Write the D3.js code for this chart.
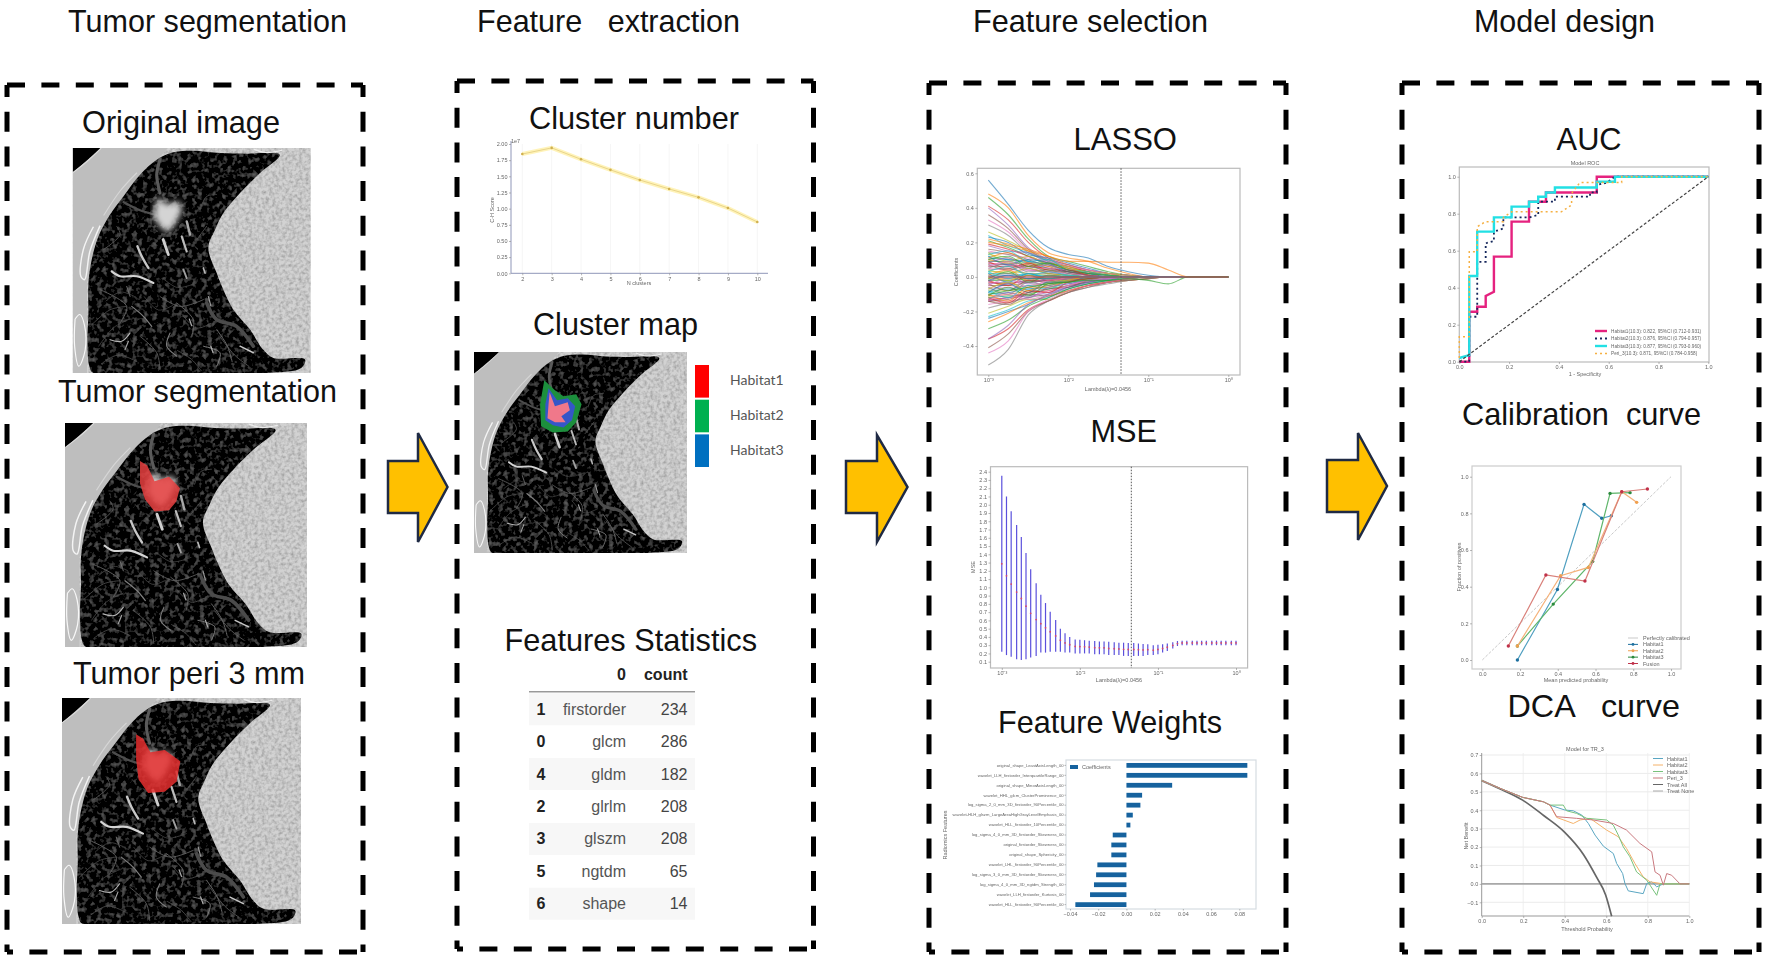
<!DOCTYPE html>
<meta charset="utf-8">
<style>
  body { margin: 0; background: #fff; }
  text { font-family: "Liberation Sans", Arial, sans-serif; }
  .head { fill: #111; font-size: 32px; white-space: pre; }
  .tiny text, text.tiny { font-size: 5.5px; fill: #666; }
  .tiny .tick line { stroke: #888; stroke-width: .6; }
  .tiny .domain { display: none; }
</style>
<script src="https://d3js.org/d3.v7.min.js"></script>
<div id="fig"></div>
<script>
// ---------- data ----------
var clusterK = [2, 3, 4, 5, 6, 7, 8, 9, 10];
var clusterScore = [1.845, 1.94, 1.763, 1.60, 1.443, 1.304, 1.175, 1.01, 0.794];

var habitats = ["Habitat1", "Habitat2", "Habitat3"];
var habitatColors = ["#ff0000", "#00b050", "#0070c0"];

var tableIndex = [1, 0, 4, 2, 3, 5, 6];
var tableNames = ["firstorder", "glcm", "gldm", "glrlm", "glszm", "ngtdm", "shape"];
var tableCounts = [234, 286, 182, 208, 208, 65, 14];

// lasso path: log10(lambda) grid and coefficients x100, missing tail values are 0
var lassoGrid = [-3, -2.75, -2.5, -2.25, -2, -1.75, -1.5, -1.25, -1, -0.75, -0.5, 0];
var lassoCoefs = [
  [56,42,27,17,13,11,6,3,1],[48,40,24,14,11,9,5,2],[46,36,22,12,9,6,3,1],[41,33,20,11,7,4,2,1],
  [40,30,17,10,6,3,1],[36,28,16,9,5,3,1],[33,26,15,8,5,2,1],[30,24,14,9,4,2],
  [26,21,15,10,6,3,1],[24,18,14,9,5,2,1],[23,20,13,11,8,5,2,1],[22,19,16,12,7,4,2],
  [21,17,12,7,4,2,1],[19,16,12,8,6,3,1],[18,15,14,10,7,4,2,1],[16,14,10,6,3,1],
  [15,13,11,9,6,4,2,1],[14,13,9,5,3,1],[13,11,8,8,5,3,2,1],[12,10,8,5,3,1],
  [11,10,9,7,4,2,1],[10,8,7,4,2,1],[9,9,6,4,3,1],[8,7,6,5,3,1],[7,7,4,3,1],[6,6,5,2,1],
  [5,4,4,3,2,1],[4,5,2,2,1],[3,3,2,1,1],[2,2,1,1],[1,1,1],
  [-1,-1,-1],[-2,-2,-1,-1],[-3,-4,-2,-2,-1],[-4,-3,-3,-2,-1],[-5,-5,-3,-2,-1,-1],
  [-6,-6,-5,-3,-2,-1],[-7,-7,-5,-4,-2,-1],[-8,-8,-6,-4,-2,-1,-1],[-9,-7,-7,-5,-3,-2,-1],
  [-10,-9,-7,-6,-4,-2,-1],[-11,-10,-8,-5,-3,-1],[-12,-11,-10,-7,-5,-3,-2,-1],
  [-13,-12,-9,-8,-5,-3,-1],[-14,-12,-11,-9,-6,-4,-2,-1],[-14,-13,-10,-11,-8,-5,-3,-2,-1],
  [-16,-14,-12,-8,-5,-2,-1],[-18,-15,-12,-10,-7,-4,-2,-1],[-21,-17,-13,-13,-8,-5,-3,-1],
  [-23,-19,-14,-12,-7,-4,-2,-1],[-24,-20,-16,-10,-6,-3,-1],[-26,-21,-15,-11,-8,-5,-3,-2,-1],
  [-30,-25,-17,-12,-7,-4,-2],[-36,-30,-19,-14,-9,-5,-3,-1],[-36,-28,-16,-11,-6,-3,-1],
  [-41,-33,-20,-14,-9,-6,-3,-2,-1],[-44,-37,-20,-13,-8,-5,-3,-1],[-51,-42,-22,-14,-9,-6,-4,-2,-1],
  [14,9,12,7,6,2,1],[13,15,9,10,4,3,1],[12,7,10,8,3,2],[11,14,8,6,5,1],[10,12,6,8,4,2,1],[9,5,8,4,4,1],
  [8,11,5,7,2,1],[7,4,7,3,3,1],[6,9,4,5,1],[5,8,3,4,2],[4,2,5,2,1],[3,6,1,3,1],[2,-3,2,-1],[1,4,-2,1],
  [-1,3,-3,1],[-2,-5,1,-2],[-3,1,-4,-1],[-4,-8,-2,-3,-1],[-5,-1,-6,-2,-1],[-6,-10,-3,-5,-1],[-7,-3,-8,-3,-2],
  [-8,-12,-5,-7,-2,-1],[-9,-4,-9,-3,-3],[-10,-14,-6,-6,-2],[-11,-6,-11,-4,-3,-1],[-12,-15,-8,-9,-3,-1],
  [-13,-9,-12,-6,-4,-2,-1],[-14,-16,-9,-7,-6,-2],[-14,-10,-13,-10,-5,-2,-1],[0,2,-1,1],[0,-2,1,-1],[3,-1,2,0,1],[-2,1,-1,-1],
  [20,18,15,12,9,9,8.5,8.5,8,4],[-10,-8,-6,-4,-3,-2,-2,-1,-2,-4]
];
var lassoLambda = 0.0456;

// MSE cross validation bars
var mseLogLambda = [-3,-2.94,-2.88,-2.81,-2.75,-2.69,-2.63,-2.56,-2.5,-2.44,-2.38,-2.31,-2.25,-2.19,-2.13,-2.06,-2,
  -1.94,-1.88,-1.81,-1.75,-1.69,-1.63,-1.56,-1.5,-1.44,-1.38,-1.31,-1.25,-1.19,-1.13,-1.06,-1,
  -0.94,-0.88,-0.81,-0.75,-0.69,-0.63,-0.56,-0.5,-0.44,-0.38,-0.31,-0.25,-0.19,-0.13,-0.06,0];
var mseTop = [2.35,2.10,1.92,1.755,1.61,1.415,1.22,1.05,0.91,0.81,0.705,0.605,0.50,0.445,0.40,0.37,0.365,
  0.36,0.355,0.35,0.345,0.345,0.34,0.335,0.33,0.33,0.325,0.325,0.32,0.315,0.31,0.30,0.305,
  0.31,0.32,0.335,0.35,0.355,0.355,0.355,0.355,0.355,0.355,0.355,0.355,0.355,0.355,0.355,0.355];
var mseBottom = [0.22,0.18,0.16,0.13,0.12,0.13,0.15,0.17,0.21,0.21,0.22,0.22,0.22,0.21,0.21,0.20,0.20,
  0.20,0.20,0.19,0.19,0.19,0.18,0.18,0.18,0.17,0.17,0.17,0.17,0.17,0.18,0.18,0.19,
  0.21,0.23,0.26,0.29,0.30,0.30,0.30,0.30,0.30,0.30,0.30,0.30,0.30,0.30,0.30,0.30];

var featureNames = ["original_shape_LeastAxisLength_00","wavelet_LLH_firstorder_InterquartileRange_00",
  "original_shape_MinorAxisLength_00","wavelet_HHL_glcm_ClusterProminence_00",
  "log_sigma_2_0_mm_3D_firstorder_90Percentile_00","wavelet-HLH_glszm_LargeAreaHighGrayLevelEmphasis_00",
  "wavelet_HLL_firstorder_10Percentile_00","log_sigma_4_0_mm_3D_firstorder_Skewness_00",
  "original_firstorder_Skewness_00","original_shape_Sphericity_00","wavelet_LHL_firstorder_90Percentile_00",
  "log_sigma_3_0_mm_3D_firstorder_Skewness_00","log_sigma_4_0_mm_3D_ngtdm_Strength_00",
  "wavelet_LLH_firstorder_Kurtosis_00","wavelet_HLL_firstorder_90Percentile_00"];
var featureWeights = [0.0857,0.0857,0.0324,0.0111,0.0099,0.0045,0.0028,-0.0097,-0.0107,-0.0107,-0.0206,-0.0215,-0.023,-0.0258,-0.0362];

var rocHabitat1 = [[0,0],[.04,0],[.04,.27],[.072,.27],[.072,.297],[.106,.297],[.106,.355],[.139,.378],[.139,.568],[.21,.568],[.21,.757],[.28,.757],[.28,.865],[.348,.865],[.348,.915],[.552,.915],[.552,1],[1,1]];
var rocHabitat2 = [[0,0],[.04,0],[.04,.243],[.072,.243],[.072,.54],[.106,.54],[.106,.64],[.139,.652],[.139,.703],[.177,.72],[.177,.78],[.28,.78],[.317,.793],[.317,.865],[.384,.865],[.384,.892],[.525,.892],[.525,.915],[.552,.915],[.552,.955],[.592,.968],[.625,1],[1,1]];
var rocHabitat3 = [[0,.02],[.04,.036],[.04,.463],[.072,.463],[.072,.703],[.139,.703],[.139,.78],[.21,.78],[.21,.838],[.28,.838],[.28,.865],[.317,.865],[.317,.892],[.348,.892],[.348,.915],[.384,.915],[.384,.942],[.552,.942],[.552,.973],[.625,.973],[.625,1],[1,1]];
var rocPeri = [[0,.02],[0,.135],[.04,.135],[.04,.595],[.072,.595],[.072,.73],[.106,.757],[.177,.757],[.177,.78],[.21,.81],[.41,.81],[.451,.847],[.451,.91],[.484,.968],[.652,.968],[.652,1],[1,1]];
var rocLabels = ["Habitat1(10.3): 0.822, 95%CI (0.712-0.931)","Habitat2(10.3): 0.876, 95%CI (0.794-0.957)",
  "Habitat3(10.3): 0.877, 95%CI (0.793-0.960)","Peri_3(10.3): 0.871, 95%CI (0.784-0.958)"];

var calHabitat1 = [[.186,0],[.398,.385],[.539,.849],[.633,.773],[.684,.787]];
var calHabitat2 = [[.186,.076],[.415,.46],[.562,.505],[.739,.918],[.818,.86]];
var calHabitat3 = [[.186,.076],[.376,.305],[.585,.538],[.677,.909],[.783,.913]];
var calPeri = [[.138,.076],[.337,.464],[.544,.431],[.739,.918],[.875,.933]];
var calLabels = ["Perfectly calibrated","Habitat1","Habitat2","Habitat3","Fusion"];

var dcaStart = [[0,.561],[.088,.519],[.197,.47],[.297,.446],[.329,.428]];
var dcaHabitat1 = [[.401,.401],[.441,.397],[.482,.374],[.514,.328],[.546,.265],[.586,.205],[.634,.165],[.65,.111],[.679,.056],[.69,.002],[.706,-.038],[.778,-.053],[.795,.002],[.819,.011],[.843,-.016],[.875,0],[1,0]];
var dcaHabitat2 = [[.361,.361],[.441,.328],[.474,.347],[.522,.356],[.602,.292],[.658,.256],[.698,.192],[.738,.111],[.778,.038],[.811,.011],[.875,0],[1,0]];
var dcaHabitat3 = [[.393,.428],[.409,.397],[.457,.383],[.506,.356],[.602,.347],[.634,.319],[.658,.265],[.682,.201],[.714,.147],[.746,.065],[.795,.02],[.843,-.062],[.859,0],[1,0]];
var dcaPeri = [[.361,.365],[.457,.356],[.538,.347],[.634,.328],[.698,.292],[.762,.22],[.819,.174],[.835,.065],[.859,.047],[.875,-.007],[.891,.056],[.915,.047],[.955,0],[1,0]];
var dcaTreatAll = [[0,.561],[.1,.51],[.197,.455],[.3,.37],[.4,.28],[.49,.16],[.554,.035],[.597,-.06],[.626,-.176]];
var dcaLabels = ["Habitat1","Habitat2","Habitat3","Peri_3","Treat All","Treat None"];

// ---------- CT slice, traced in units of 0..100 of the image box ----------
var lungOutline = [[87,3],[73,2.5],[62,2.2],[50.7,1.2],[42.3,1.9],[35.3,5.2],[28.3,11.9],[21.3,21.5],[15.7,29.6],[10.8,39.3],[8,49.6],[6.6,60],[6.6,73.3],[6.2,85.2],[7,97],[8.7,100],[81.5,100],[96,97.8],[97.6,94],[84.3,93.3],[80,89.6],[74.5,80.7],[67.5,71.9],[63.3,63],[60.5,55.6],[57,44.4],[59.8,36.3],[63.3,28.9],[70.3,20],[78.7,11.1]];
var cornerShape = [[0,0],[12,0],[0,11]];
var noduleShape = [[36,21.5],[39.5,25],[45,23.7],[46,28],[43,34],[40,37.8],[36.7,35],[34,31],[34.5,26]];
var maskThin = [[31,17],[34,19],[37,26],[43,24],[47.5,29],[46,35],[43,39],[37,39.5],[33,34],[31,27]];
var maskWide = [[31,16],[34,18],[37,24],[43,23],[49.5,28],[48,37],[43,41.5],[36,42],[32,36],[31,27]];
var clusterGreen = [[33,14],[38,19],[42,22],[48,21],[50.5,26],[48,35],[44,39.5],[37,40],[31.5,37],[31,26]];
var clusterBlue = [[35,18],[39,24],[44,23],[47.5,27],[46,34],[42,37.5],[37,36.5],[33.5,34],[33.5,26]];
var clusterPink = [[35.5,20],[38,27],[44,25],[45,29],[41,32],[43,35],[38,35],[34.5,33],[35,26]];
// brightness, width (image units), then points
var vessels = [
  ["#5a5a5a",1.3,[[36.7,5],[35.3,12],[36.7,20]]],
  ["#4e4e4e",.9,[[21.3,24],[28.3,27.7],[34.5,29.6]]],
  ["#cfcfcf",1.2,[[38,40.7],[40.2,47.4]]],
  ["#bcbcbc",.9,[[45.8,39.3],[47.9,46]]],
  ["#a8a8a8",1,[[47.9,32.6],[49.3,38.5]]],
  ["#c8c8c8",1,[[27.2,43.7],[29,48.1],[31.8,53.3]]],
  ["#d4d4d4",.9,[[16.4,54.8],[19.9,57],[26.9,57],[33.9,60]]],
  ["#a0a0a0",.8,[[46.5,54],[47.9,57.8]]],
  ["#b8b8b8",.7,[[54.9,53.3],[55.6,55.6]]],
  ["#808080",.5,[[24.8,70.4],[29.7,74.8],[33.2,79.3]]],
  ["#b4b4b4",.5,[[15.7,85.2],[20.6,85.9],[24.1,82.2]]],
  ["#a4a4a4",.5,[[23.4,85.9],[22,89.6]]],
  ["#5c5c5c",.35,[[12.9,45.2],[19.9,38.5],[18.5,34.8]]],
  ["#626262",.4,[[43.7,68.9],[50.7,76.3],[50,83.7]]],
  ["#4c4c4c",1.5,[[56.3,68.9],[60.5,76.3],[68.9,79.3],[75.9,88.1]]],
  ["#808080",.4,[[54.9,88.1],[61.9,91],[60.5,97]]],
  ["#808080",.45,[[40.9,82.2],[39.5,88.1],[43.7,92.5]]],
  ["#c8c8c8",.6,[[70.3,88.1],[75.9,91]]],
  ["#666666",.35,[[36.7,66],[45.1,70.4],[54.9,67.4]]],
  ["#505050",.35,[[53.5,27.4],[56.3,21.5],[60.5,20.7]]],
  ["#505050",.35,[[52.1,40.7],[56.3,34.8]]],
  ["#606060",.4,[[11.5,63],[22.7,70.4],[19.9,77.8]]],
  ["#707070",.4,[[22.7,61.5],[24.1,66]]],
  ["#606060",.35,[[28.3,83.7],[35.3,91],[36.7,98.5]]],
  ["#5a5a5a",.3,[[7.3,79.3],[15.7,71.9],[22.7,70.4]]],
  ["#6a6a6a",.4,[[60.5,80.7],[65,88],[67,95]]],
  ["#505050",.3,[[11,88],[17,80],[24,76]]],
  ["#505050",.3,[[30,66],[36,72],[42,70]]],
  ["#5a5a5a",.3,[[46,74],[52,80],[58,78]]],
  ["#5a5a5a",.3,[[12,96],[19,92],[27,95]]],
  ["#606060",.3,[[44,90],[50,94],[54,99]]],
  ["#606060",.35,[[62,84],[68,92],[74,97]]],
  ["#505050",.3,[[38,58],[44,62],[52,60]]],
  ["#505050",.3,[[14,68],[20,64],[26,66]]],
  ["#9a9a9a",.5,[[57,66],[58,70]]],
  ["#a8a8a8",.5,[[49,76],[50,79]]],
  ["#b0b0b0",.5,[[58,88],[59,91]]]
];
var ribEdges = [
  ["#f4f4f4",.6,[[8.7,35],[4.5,45],[3.4,57],[5,58.5],[7.2,46],[11.5,34.5]]],
  ["#dadada",.45,[[0,11],[6,6],[12,0]]],
  ["#d6d6d6",.5,[[13,30],[20,19],[27,11]]],
  ["#f8f8f8",.5,[[1,76],[.8,88],[2.6,97],[5.2,90],[5,79],[3,74],[1,76]]],
  ["#ececec",.5,[[76,.5],[81,2],[88,1]]]
];

// ---------- page ----------
var svg = d3.select("#fig").append("svg").attr("width", 1772).attr("height", 961).style("display", "block");
var defs = svg.append("defs");

function blurFilter(id, sd) {
  defs.append("filter").attr("id", id).attr("x", "-10%").attr("y", "-10%").attr("width", "120%").attr("height", "120%")
    .append("feGaussianBlur").attr("stdDeviation", sd);
}
blurFilter("soft", 0.55);
blurFilter("ctSoft", 0.75);
blurFilter("noduleSoft", 3);

// speckle for the soft tissue and the lung parenchyma
var speckle = defs.append("filter").attr("id", "speckle").attr("x", 0).attr("y", 0).attr("width", "100%").attr("height", "100%");
speckle.append("feTurbulence").attr("type", "fractalNoise").attr("baseFrequency", 0.3).attr("numOctaves", 2).attr("seed", 4).attr("result", "n");
speckle.append("feColorMatrix").attr("in", "n").attr("type", "matrix")
  .attr("values", "0 0 0 0 0  0 0 0 0 0  0 0 0 0 0  0.9 0 0 0 -0.33").attr("result", "dark");
speckle.append("feComposite").attr("in", "dark").attr("in2", "SourceGraphic").attr("operator", "in").attr("result", "cut");
var spMerge = speckle.append("feMerge");
spMerge.append("feMergeNode").attr("in", "SourceGraphic");
spMerge.append("feMergeNode").attr("in", "cut");

var mottle = defs.append("filter").attr("id", "mottle").attr("x", 0).attr("y", 0).attr("width", "100%").attr("height", "100%");
mottle.append("feTurbulence").attr("type", "fractalNoise").attr("baseFrequency", 0.2).attr("numOctaves", 2).attr("seed", 9).attr("result", "n");
mottle.append("feColorMatrix").attr("in", "n").attr("type", "matrix")
  .attr("values", "0 0 0 0 .5  0 0 0 0 .5  0 0 0 0 .5  0.55 0 0 0 -0.28").attr("result", "light");
mottle.append("feComposite").attr("in", "light").attr("in2", "SourceGraphic").attr("operator", "in").attr("result", "cut");
var moMerge = mottle.append("feMerge");
moMerge.append("feMergeNode").attr("in", "SourceGraphic");
moMerge.append("feMergeNode").attr("in", "cut");

// dashed panels
function dashedBox(x0, y0, x1, y1) {
  var b = svg.append("g").attr("fill", "none").attr("stroke", "#000").attr("stroke-width", 5);
  [[x0, y0, x1, y0, "18 16.4", 0], [x0, y0, x0, y1, "20 14.7", 8], [x0, y1, x1, y1, "18 16.4", 12], [x1, y0, x1, y1, "20 14.7", 8]].forEach(function(s) {
    b.append("line").attr("x1", s[0]).attr("y1", s[1]).attr("x2", s[2]).attr("y2", s[3])
      .attr("stroke-dasharray", s[4]).attr("stroke-dashoffset", s[5]);
  });
}
dashedBox(7, 85, 363, 952);
dashedBox(457, 81, 813.5, 949);
dashedBox(929, 83, 1286, 952);
dashedBox(1402, 83, 1759, 952);

// headings, stretched to the width they have in the figure
function head(txt, x0, x1, base) {
  svg.append("text").attr("class", "head").attr("x", x0).attr("y", base)
    .attr("textLength", x1 - x0).attr("lengthAdjust", "spacingAndGlyphs").text(txt);
}
head("Tumor segmentation", 68, 347, 32);
head("Feature   extraction", 477, 740, 32);
head("Feature selection", 973, 1208, 32);
head("Model design", 1474, 1655, 32);
head("Original image", 82, 280, 133);
head("Tumor segmentation", 58, 337, 402);
head("Tumor peri 3 mm", 73, 305, 684);
head("Cluster number", 529, 739, 129);
head("Cluster map", 533, 698, 335);
head("Features Statistics", 504.5, 757, 651);
head("LASSO", 1073.5, 1177, 150);
head("MSE", 1090.5, 1157, 442);
head("Feature Weights", 998, 1222, 733);
head("AUC", 1556.6, 1621.6, 150);
head("Calibration  curve", 1462, 1701, 425);
head("DCA   curve", 1507.5, 1680, 717);

// arrows
function arrow(left, neck, point, top, mid, bottom) {
  svg.append("path")
    .attr("d", d3.line()([[left, mid - 26], [neck, mid - 26], [neck, top], [point, mid], [neck, bottom], [neck, mid + 26], [left, mid + 26]]) + "Z")
    .attr("fill", "#ffc000").attr("stroke", "#1f2a44").attr("stroke-width", 2.5).attr("stroke-linejoin", "miter");
}
arrow(388, 418, 447.5, 433, 487, 542);
arrow(846, 877, 907.5, 435, 487, 542);
arrow(1327, 1358, 1387, 433, 486, 540);

// CT slices
var ctCount = 0;
function ctSlice(x, y, w, h, overlay) {
  ctCount++;
  var sx = d3.scaleLinear().domain([0, 100]).range([0, w]);
  var sy = d3.scaleLinear().domain([0, 100]).range([0, h]);
  var line = d3.line().x(function(d) { return sx(d[0]); }).y(function(d) { return sy(d[1]); });
  var smooth = d3.line().x(function(d) { return sx(d[0]); }).y(function(d) { return sy(d[1]); }).curve(d3.curveCatmullRom);
  var blob = d3.line().x(function(d) { return sx(d[0]); }).y(function(d) { return sy(d[1]); }).curve(d3.curveLinearClosed);
  var g = svg.append("g").attr("transform", "translate(" + x + "," + y + ")");
  defs.append("clipPath").attr("id", "ct" + ctCount).append("rect").attr("width", w).attr("height", h);
  g.attr("clip-path", "url(#ct" + ctCount + ")");

  var soft = g.append("g").attr("filter", "url(#ctSoft)");
  soft.append("rect").attr("x", -2).attr("y", -2).attr("width", w + 4).attr("height", h + 4).attr("fill", "#d2d2d2").attr("filter", "url(#speckle)");
  // chest wall is a little darker and flatter than the right side
  soft.append("path").attr("d", line([[0, 0], [40, 0], [15, 30], [6, 60], [6, 100], [0, 100]]) + "Z").attr("fill", "#bebebe");
  soft.append("path").attr("d", line(cornerShape) + "Z").attr("fill", "#000");
  soft.append("path").attr("d", blob.curve(d3.curveCatmullRomClosed.alpha(0.5))(lungOutline)).attr("fill", "#060606").attr("filter", "url(#mottle)");
  blob.curve(d3.curveLinearClosed);
  ribEdges.forEach(function(r) {
    soft.append("path").attr("d", smooth(r[2])).attr("fill", "none").attr("stroke", r[0]).attr("stroke-width", sx(r[1]));
  });
  vessels.forEach(function(v) {
    soft.append("path").attr("d", smooth(v[2])).attr("fill", "none").attr("stroke", v[0]).attr("stroke-width", sx(v[1])).attr("stroke-linecap", "round");
  });
  g.append("path").attr("d", blob(noduleShape)).attr("fill", "#d4d4d4").attr("filter", "url(#noduleSoft)");
  if (overlay) overlay(g, blob);
}

ctSlice(72.7, 148, 238, 225);
ctSlice(65, 423, 242, 224, function(g, blob) {
  g.append("path").attr("d", blob(maskThin)).attr("fill", "#e8403f").attr("opacity", 0.85).attr("filter", "url(#ctSoft)");
});
ctSlice(62, 698, 239, 226, function(g, blob) {
  g.append("path").attr("d", blob(maskWide)).attr("fill", "#e52f2f").attr("opacity", 0.85).attr("filter", "url(#ctSoft)");
});
ctSlice(474, 352, 213, 201, function(g, blob) {
  var o = g.append("g").attr("filter", "url(#ctSoft)");
  o.append("path").attr("d", blob(clusterGreen)).attr("fill", "#1f8f3c");
  o.append("path").attr("d", blob(clusterBlue)).attr("fill", "#3557c8");
  o.append("path").attr("d", blob(clusterPink)).attr("fill", "#f0788a");
});

// habitat legend
var habY = d3.scaleBand().domain(habitats).range([365, 467]).paddingInner(0.06);
svg.selectAll(".habSw").data(habitats).join("rect")
  .attr("x", 695).attr("width", 14).attr("y", function(d) { return habY(d); }).attr("height", habY.bandwidth())
  .attr("fill", function(d, i) { return habitatColors[i]; });
svg.selectAll(".habTx").data(habitats).join("text")
  .attr("x", 730).attr("y", function(d) { return habY(d) + habY.bandwidth() / 2 + 4; })
  .attr("font-size", 14).attr("fill", "#555").style("font-family", "Lato").text(function(d) { return d; });

// ---------- cluster number ----------
(function() {
  var g = svg.append("g").attr("class", "tiny").attr("filter", "url(#soft)");
  var x = d3.scaleLinear().domain([2, 10]).range([522.3, 757.3]);
  var y = d3.scaleLinear().domain([0, 2]).range([273.3, 144]);
  g.selectAll(".gv").data(clusterK).join("line").attr("x1", x).attr("x2", x).attr("y1", 144).attr("y2", 273).attr("stroke", "#f6f6f6");
  g.append("line").attr("x1", 511).attr("x2", 768).attr("y1", 273.3).attr("y2", 273.3).attr("stroke", "#8f96b8");
  g.append("line").attr("x1", 511).attr("x2", 511).attr("y1", 141).attr("y2", 273.3).attr("stroke", "#8f96b8");
  g.append("g").attr("transform", "translate(0,273.3)").call(d3.axisBottom(x).tickValues(clusterK).tickSize(2).tickPadding(1.5).tickFormat(d3.format("d")));
  g.append("g").attr("transform", "translate(511,0)").call(d3.axisLeft(y).tickValues(d3.range(0, 2.01, 0.25)).tickSize(2).tickPadding(1.5).tickFormat(d3.format(".2f")));
  var pts = clusterK.map(function(k, i) { return [x(k), y(clusterScore[i])]; });
  g.append("path").attr("d", d3.line()(pts)).attr("fill", "none").attr("stroke", "#fff0a8").attr("stroke-width", 4).attr("opacity", .8);
  g.append("path").attr("d", d3.line()(pts)).attr("fill", "none").attr("stroke", "#e8d48a").attr("stroke-width", 1);
  g.selectAll(".pt").data(pts).join("circle").attr("cx", function(d) { return d[0]; }).attr("cy", function(d) { return d[1]; }).attr("r", 1.3).attr("fill", "#d0b050");
  g.append("text").attr("x", 511).attr("y", 143).text("1e7");
  g.append("text").attr("x", 639).attr("y", 285).attr("text-anchor", "middle").text("N clusters");
  g.append("text").attr("transform", "translate(494,210) rotate(-90)").attr("text-anchor", "middle").text("C-H Score");
})();

// ---------- table ----------
(function() {
  var rowY = d3.scalePoint().domain(d3.range(tableNames.length)).range([709.3, 903.7]);
  var t = svg.append("g").attr("font-size", 16).attr("fill", "#333");
  t.selectAll(".stripe").data(d3.range(0, tableNames.length, 2)).join("rect")
    .attr("x", 529).attr("width", 166).attr("y", function(d) { return rowY(d) - 16; }).attr("height", 32).attr("fill", "#f7f7f7");
  t.append("line").attr("x1", 529).attr("x2", 695).attr("y1", 691.7).attr("y2", 691.7).attr("stroke", "#999").attr("stroke-width", 1.5);
  t.append("text").attr("x", 626).attr("y", 680).attr("text-anchor", "end").attr("font-weight", "bold").attr("fill", "#222").text("0");
  t.append("text").attr("x", 687.5).attr("y", 680).attr("text-anchor", "end").attr("font-weight", "bold").attr("fill", "#222").text("count");
  t.selectAll(".ix").data(tableIndex).join("text").attr("x", 541).attr("y", function(d, i) { return rowY(i) + 5.5; })
    .attr("text-anchor", "middle").attr("font-weight", "bold").attr("fill", "#222").text(function(d) { return d; });
  t.selectAll(".nm").data(tableNames).join("text").attr("x", 626).attr("y", function(d, i) { return rowY(i) + 5.5; })
    .attr("text-anchor", "end").attr("fill", "#555").text(function(d) { return d; });
  t.selectAll(".ct").data(tableCounts).join("text").attr("x", 687.5).attr("y", function(d, i) { return rowY(i) + 5.5; })
    .attr("text-anchor", "end").attr("fill", "#444").text(function(d) { return d; });
})();

// ---------- shared frame helper ----------
function frame(g, x0, y0, x1, y1, col) {
  g.append("rect").attr("x", x0).attr("y", y0).attr("width", x1 - x0).attr("height", y1 - y0)
    .attr("fill", "none").attr("stroke", col || "#bbb").attr("stroke-width", 1.2);
}
function expTick(d) {
  return d === 1 ? "10\u2070" : "10\u207B" + "\u2070\u00B9\u00B2\u00B3"[Math.round(-Math.log10(d))];
}

// ---------- lasso ----------
(function() {
  var g = svg.append("g").attr("class", "tiny").attr("filter", "url(#soft)");
  var x = d3.scaleLog().domain([1e-3, 1]).range([988.3, 1228.3]);
  var y = d3.scaleLinear().domain([-0.4, 0.6]).range([346, 173.3]);
  var colors = d3.schemeCategory10;
  var line = d3.line().x(function(d, i) { return x(Math.pow(10, lassoGrid[i])); }).y(function(d) { return y(d / 100); }).curve(d3.curveMonotoneX);
  lassoCoefs.forEach(function(c, k) {
    var full = lassoGrid.map(function(_, i) { return c[i] || 0; });
    g.append("path").attr("d", line(full)).attr("fill", "none").attr("stroke", colors[k % 10]).attr("stroke-width", 1.1).attr("opacity", .62);
  });
  g.append("path").attr("d", line(lassoGrid.map(function() { return 0; }))).attr("fill", "none").attr("stroke", "#a0505e").attr("stroke-width", 1.5).attr("opacity", .85);
  frame(g, 977.3, 168.3, 1240, 375);
  g.append("line").attr("x1", x(lassoLambda)).attr("x2", x(lassoLambda)).attr("y1", 168.3).attr("y2", 375)
    .attr("stroke", "#555").attr("stroke-width", 1).attr("stroke-dasharray", "1.5 1.5");
  g.append("g").attr("transform", "translate(0,375)").call(d3.axisBottom(x).tickValues([1e-3, 1e-2, 1e-1, 1]).tickSize(2).tickPadding(1.5).tickFormat(expTick));
  g.append("g").attr("transform", "translate(977.3,0)").call(d3.axisLeft(y).tickValues([-0.4, -0.2, 0, 0.2, 0.4, 0.6]).tickSize(2).tickPadding(1.5).tickFormat(d3.format(".1f")));
  g.append("text").attr("x", 1108).attr("y", 391).attr("text-anchor", "middle").text("Lambda(\u03BB)=" + lassoLambda);
  g.append("text").attr("transform", "translate(958,272) rotate(-90)").attr("text-anchor", "middle").text("Coefficients");
})();

// ---------- mse ----------
(function() {
  var g = svg.append("g").attr("class", "tiny").attr("filter", "url(#soft)");
  var x = d3.scaleLog().domain([1e-3, 1]).range([1001.8, 1236]);
  var y = d3.scaleLinear().domain([0.1, 2.4]).range([661.7, 471.7]);
  mseLogLambda.forEach(function(l, i) {
    var px = x(Math.pow(10, l));
    g.append("line").attr("x1", px).attr("x2", px).attr("y1", y(mseTop[i])).attr("y2", y(mseBottom[i])).attr("stroke", "#5a50dc").attr("stroke-width", 1.2);
    g.append("circle").attr("cx", px).attr("cy", y(d3.mean([mseTop[i], mseBottom[i]]))).attr("r", .9).attr("fill", "#d8486a");
  });
  frame(g, 990.5, 466.7, 1247.6, 668);
  g.append("line").attr("x1", x(lassoLambda)).attr("x2", x(lassoLambda)).attr("y1", 466.7).attr("y2", 668)
    .attr("stroke", "#555").attr("stroke-width", 1).attr("stroke-dasharray", "1.5 1.5");
  g.append("g").attr("transform", "translate(0,668)").call(d3.axisBottom(x).tickValues([1e-3, 1e-2, 1e-1, 1]).tickSize(2).tickPadding(1.5).tickFormat(expTick));
  g.append("g").attr("transform", "translate(990.5,0)").call(d3.axisLeft(y).tickValues(d3.range(1, 25).map(function(v) { return v / 10; })).tickSize(2).tickPadding(1.5).tickFormat(d3.format(".1f")));
  g.append("text").attr("x", 1119).attr("y", 682).attr("text-anchor", "middle").text("Lambda(\u03BB)=" + lassoLambda);
  g.append("text").attr("transform", "translate(975,567) rotate(-90)").attr("text-anchor", "middle").text("MSE");
})();

// ---------- feature weights ----------
(function() {
  var g = svg.append("g").attr("class", "tiny").attr("filter", "url(#soft)");
  var x = d3.scaleLinear().domain([-0.04, 0.08]).range([1070, 1239.3]);
  var y = d3.scaleBand().domain(featureNames).range([761, 909]).paddingInner(0.52).paddingOuter(0.2);
  g.selectAll(".bar").data(featureNames).join("rect")
    .attr("x", function(d, i) { return x(Math.min(0, featureWeights[i])); })
    .attr("width", function(d, i) { return Math.abs(x(featureWeights[i]) - x(0)); })
    .attr("y", function(d) { return y(d); }).attr("height", y.bandwidth()).attr("fill", "#14629e");
  frame(g, 1066, 760, 1256, 909, "#d6dce2");
  g.append("g").attr("transform", "translate(1066,0)").call(d3.axisLeft(y).tickSize(1.5).tickPadding(1)).selectAll("text").style("font-size", "4.15px");
  g.append("g").attr("transform", "translate(0,909)").call(d3.axisBottom(x).tickValues([-0.04, -0.02, 0, 0.02, 0.04, 0.06, 0.08]).tickSize(1.5).tickPadding(1.5).tickFormat(d3.format(".2f")));
  g.append("rect").attr("x", 1070).attr("y", 765).attr("width", 8).attr("height", 4).attr("fill", "#14629e");
  g.append("text").attr("x", 1082).attr("y", 769).text("Coefficients");
  g.append("text").attr("transform", "translate(947,835) rotate(-90)").attr("text-anchor", "middle").text("Radiomics Features");
})();

// ---------- roc ----------
(function() {
  var g = svg.append("g").attr("class", "tiny").attr("filter", "url(#soft)");
  var x = d3.scaleLinear().domain([0, 1]).range([1459.3, 1708.3]);
  var y = d3.scaleLinear().domain([0, 1]).range([361.7, 176.7]);
  var line = d3.line().x(function(d) { return x(d[0]); }).y(function(d) { return y(d[1]); });
  frame(g, 1459.3, 167, 1709, 362);
  var curves = [[rocHabitat1, "#e5207f", 2.4, null], [rocHabitat2, "#17285c", 1.8, "2 3"], [rocHabitat3, "#22e0e4", 2.4, null], [rocPeri, "#f5b042", 1.5, "2 3"]];
  curves.forEach(function(c) {
    g.append("path").attr("d", line(c[0])).attr("fill", "none").attr("stroke", c[1]).attr("stroke-width", c[2]).attr("stroke-dasharray", c[3]);
  });
  g.append("path").attr("d", line([[0, 0], [1, 1]])).attr("fill", "none").attr("stroke", "#444").attr("stroke-width", 1.2).attr("stroke-dasharray", "3 2");
  g.append("g").attr("transform", "translate(0,362)").call(d3.axisBottom(x).ticks(5).tickSize(2).tickPadding(1.5).tickFormat(d3.format(".1f")));
  g.append("g").attr("transform", "translate(1459.3,0)").call(d3.axisLeft(y).ticks(5).tickSize(2).tickPadding(1.5).tickFormat(d3.format(".1f")));
  g.append("text").attr("x", 1585).attr("y", 165).attr("text-anchor", "middle").text("Model ROC");
  g.append("text").attr("x", 1585).attr("y", 376).attr("text-anchor", "middle").text("1 - Specificity");
  var ly = d3.scalePoint().domain(rocLabels).range([331, 353.5]);
  rocLabels.forEach(function(l, i) {
    g.append("line").attr("x1", 1595).attr("x2", 1607).attr("y1", ly(l)).attr("y2", ly(l))
      .attr("stroke", curves[i][1]).attr("stroke-width", curves[i][2]).attr("stroke-dasharray", curves[i][3]);
    g.append("text").attr("x", 1611).attr("y", ly(l) + 1.7).style("font-size", "4.7px").text(l);
  });
})();

// ---------- calibration ----------
(function() {
  var g = svg.append("g").attr("class", "tiny").attr("filter", "url(#soft)");
  var x = d3.scaleLinear().domain([0, 1]).range([1482.3, 1671]);
  var y = d3.scaleLinear().domain([0, 1]).range([660, 476.7]);
  var line = d3.line().x(function(d) { return x(d[0]); }).y(function(d) { return y(d[1]); });
  frame(g, 1472, 466, 1681, 669, "#ccc");
  g.append("path").attr("d", line([[0, 0], [1, 1]])).attr("fill", "none").attr("stroke", "#c9c9c9").attr("stroke-width", 1).attr("stroke-dasharray", "3 1.5");
  var sets = [[calHabitat1, "#4f9fc0"], [calHabitat3, "#5fb56a"], [calHabitat2, "#f5b27a"], [calPeri, "#d9807a"]];
  var dots = { "#4f9fc0": "#1f6f9f", "#5fb56a": "#2c8a3e", "#f5b27a": "#f0a050", "#d9807a": "#c0304a" };
  sets.forEach(function(s) {
    g.append("path").attr("d", line(s[0])).attr("fill", "none").attr("stroke", s[1]).attr("stroke-width", 1.2);
    g.selectAll(".d").data(s[0]).join("circle").attr("cx", function(d) { return x(d[0]); }).attr("cy", function(d) { return y(d[1]); }).attr("r", 1.7).attr("fill", dots[s[1]]);
  });
  g.append("g").attr("transform", "translate(0,669)").call(d3.axisBottom(x).ticks(5).tickSize(2).tickPadding(1.5).tickFormat(d3.format(".1f")));
  g.append("g").attr("transform", "translate(1472,0)").call(d3.axisLeft(y).ticks(5).tickSize(2).tickPadding(1.5).tickFormat(d3.format(".1f")));
  g.append("text").attr("x", 1576).attr("y", 682).attr("text-anchor", "middle").text("Mean predicted probability");
  g.append("text").attr("transform", "translate(1461,567) rotate(-90)").attr("text-anchor", "middle").text("Fraction of positives");
  var ly = d3.scalePoint().domain(calLabels).range([638, 663.5]);
  var lc = ["#c9c9c9", "#1f6f9f", "#f0a050", "#2c8a3e", "#c0304a"];
  calLabels.forEach(function(l, i) {
    g.append("line").attr("x1", 1628).attr("x2", 1638).attr("y1", ly(l)).attr("y2", ly(l)).attr("stroke", lc[i]).attr("stroke-width", 1);
    if (i) g.append("circle").attr("cx", 1633).attr("cy", ly(l)).attr("r", 1.4).attr("fill", lc[i]);
    g.append("text").attr("x", 1643).attr("y", ly(l) + 2).text(l);
  });
})();

// ---------- dca ----------
(function() {
  var g = svg.append("g").attr("class", "tiny").attr("filter", "url(#soft)");
  var x = d3.scaleLinear().domain([0, 1]).range([1481.7, 1689.3]);
  var y = d3.scaleLinear().domain([-0.1, 0.7]).range([902.3, 755]);
  var line = d3.line().x(function(d) { return x(d[0]); }).y(function(d) { return y(d[1]); });
  var yt = d3.range(-1, 8).map(function(v) { return v / 10; });
  g.selectAll(".gh").data(yt).join("line").attr("x1", 1481.7).attr("x2", 1689.3).attr("y1", y).attr("y2", y).attr("stroke", "#e6e6e6").attr("stroke-width", .8);
  g.selectAll(".gv").data([0.2, 0.4, 0.6, 0.8, 1]).join("line").attr("x1", x).attr("x2", x).attr("y1", 753).attr("y2", 916).attr("stroke", "#ececec").attr("stroke-width", .8);
  g.append("line").attr("x1", 1481.7).attr("x2", 1481.7).attr("y1", 753).attr("y2", 916).attr("stroke", "#999");
  g.append("line").attr("x1", 1481.7).attr("x2", 1689.3).attr("y1", 916).attr("y2", 916).attr("stroke", "#999");
  g.append("path").attr("d", line([[0, 0], [1, 0]])).attr("stroke", "#a8a8a8").attr("stroke-width", 1.6);
  g.append("path").attr("d", d3.line().x(function(d) { return x(d[0]); }).y(function(d) { return y(d[1]); }).curve(d3.curveMonotoneX)(dcaTreatAll))
    .attr("fill", "none").attr("stroke", "#666").attr("stroke-width", 1.7);
  var models = [[dcaHabitat1, "#5aa6c2"], [dcaHabitat2, "#f4b26a"], [dcaHabitat3, "#78c27c"], [dcaPeri, "#c9797f"]];
  models.forEach(function(m) {
    g.append("path").attr("d", line(dcaStart.concat(m[0]))).attr("fill", "none").attr("stroke", m[1]).attr("stroke-width", 1);
  });
  g.append("g").attr("transform", "translate(0,916)").call(d3.axisBottom(x).ticks(5).tickSize(2).tickPadding(1.5).tickFormat(d3.format(".1f")));
  g.append("g").attr("transform", "translate(1481.7,0)").call(d3.axisLeft(y).tickValues(yt).tickSize(2).tickPadding(1.5).tickFormat(d3.format(".1f")));
  g.append("text").attr("x", 1585).attr("y", 751).attr("text-anchor", "middle").text("Model for TR_3");
  g.append("text").attr("x", 1587).attr("y", 931).attr("text-anchor", "middle").text("Threshold Probability");
  g.append("text").attr("transform", "translate(1468,836) rotate(-90)").attr("text-anchor", "middle").text("Net Benefit");
  var ly = d3.scalePoint().domain(dcaLabels).range([758.5, 791]);
  var lc = ["#5aa6c2", "#f4b26a", "#78c27c", "#c9797f", "#666", "#a8a8a8"];
  dcaLabels.forEach(function(l, i) {
    g.append("line").attr("x1", 1653).attr("x2", 1663).attr("y1", ly(l)).attr("y2", ly(l)).attr("stroke", lc[i]);
    g.append("text").attr("x", 1667).attr("y", ly(l) + 2).text(l);
  });
})();
</script>
